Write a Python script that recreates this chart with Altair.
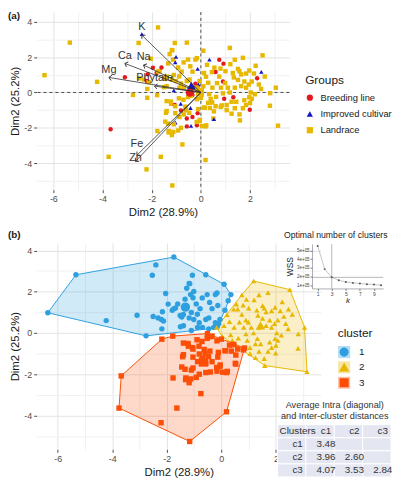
import math
import altair as alt
import pandas as pd

# ---------------- data ----------------
# individual PCA scores (x, y, group code) for each k-means cluster
C1 = [
    (-6.36, 0.98, 'L'), (-5.33, 2.82, 'L'), (-4.22, 0.60, 'L'), (-3.09, 0.86, 'B'), (-2.76, -0.14, 'L'),
    (-2.40, 3.30, 'I'), (-2.53, 2.80, 'L'), (-1.74, 3.68, 'L'), (-2.04, 1.91, 'L'), (-2.50, 0.80, 'L'),
    (-2.32, 0.73, 'L'), (-2.20, 0.65, 'B'), (-2.12, 0.58, 'L'), (-2.18, 0.20, 'L'), (-1.80, 1.10, 'B'),
    (-1.68, 1.21, 'L'), (-1.60, 1.41, 'B'), (-1.45, 0.77, 'L'), (-1.39, 0.35, 'L'), (-1.33, 1.64, 'L'),
    (-1.27, 2.17, 'L'), (-1.18, 2.40, 'L'), (-1.06, 2.80, 'L'), (-1.13, 1.86, 'L'), (-1.04, 1.71, 'I'),
    (-1.01, 2.01, 'I'), (-0.92, 1.41, 'L'), (-1.10, 0.99, 'L'), (-1.18, 0.73, 'L'), (-1.01, 0.65, 'L'),
    (-0.88, 0.91, 'L'), (-0.81, 0.50, 'L'), (-1.10, 0.12, 'I'), (-0.57, 2.82, 'L'), (-0.52, 1.86, 'L'),
    (-0.43, 1.48, 'L'), (-0.34, 1.18, 'L'), (-0.22, 1.86, 'L'), (-0.16, 1.94, 'L'), (-0.13, 1.33, 'I'),
    (0.10, 2.36, 'L'), (0.35, 1.86, 'I'), (0.25, 1.56, 'L'), (0.13, 1.10, 'L'), (-0.05, 0.65, 'L'),
    (-0.22, 0.50, 'B'), (-0.57, 0.65, 'L'), (-0.69, 0.27, 'L'), (-0.46, 0.20, 'L'), (-1.39, 0.90, 'L'),
    (-1.16, 2.39, 'L'), (-1.74, 1.18, 'L'), (-1.51, 0.85, 'L'), (-0.78, 1.18, 'L'), (-0.46, 0.73, 'L'),
    (-0.87, 0.27, 'L'), (-0.28, 0.27, 'I'), (-1.95, 1.40, 'B'), (-2.16, 1.03, 'B'), (-0.70, 1.70, 'L'),
    (-1.50, 0.30, 'L'), (-0.10, 0.45, 'I'), (-0.15, 0.30, 'B'),
]
C2 = [
    (1.18, 2.52, 'L'), (0.75, 1.85, 'B'), (0.92, 1.63, 'B'), (0.60, 1.16, 'B'), (0.55, 1.40, 'L'),
    (0.21, 0.89, 'L'), (1.71, 1.96, 'L'), (1.38, 1.85, 'L'), (1.51, 1.33, 'L'), (1.57, 1.20, 'L'),
    (1.64, 1.02, 'L'), (1.84, 1.07, 'L'), (1.97, 1.24, 'L'), (2.23, 1.51, 'L'), (2.16, 1.07, 'L'),
    (2.51, 2.10, 'L'), (2.46, 1.16, 'I'), (2.29, 0.80, 'B'), (2.36, 0.45, 'L'), (2.07, 0.62, 'L'),
    (2.03, 0.00, 'L'), (1.84, 0.27, 'L'), (1.97, -0.27, 'L'), (2.07, -0.36, 'L'), (1.99, -0.98, 'B'),
    (2.00, -0.60, 'L'), (3.05, 0.27, 'L'), (2.81, -0.75, 'L'), (3.14, -1.88, 'L'), (2.82, -0.04, 'L'),
    (1.57, -1.24, 'L'), (1.25, -1.20, 'L'), (1.38, -0.89, 'L'), (1.05, -0.71, 'L'), (1.25, -0.53, 'L'),
    (1.32, -0.27, 'B'), (0.95, -0.36, 'B'), (1.10, 0.27, 'L'), (0.82, 0.27, 'L'), (0.90, 0.62, 'B'),
    (0.99, 0.53, 'L'), (0.66, 0.53, 'L'), (0.47, 0.27, 'L'), (0.34, -0.09, 'L'), (0.40, -0.36, 'L'),
    (1.18, 0.00, 'L'), (1.38, 0.27, 'L'), (1.64, 0.36, 'L'), (1.77, -0.44, 'L'), (1.84, -0.71, 'L'),
    (1.44, -0.53, 'L'), (1.71, -0.89, 'L'), (1.05, -1.00, 'L'), (1.51, 0.71, 'L'), (1.34, 0.85, 'L'),
    (1.77, 0.62, 'L'), (0.30, 0.55, 'L'), (0.10, 0.35, 'L'), (-0.17, 0.27, 'L'), (0.02, -0.15, 'L'),
    (0.45, 1.15, 'L'), (0.75, 0.90, 'L'), (1.00, 1.20, 'L'), (1.20, 1.60, 'L'), (2.60, 0.90, 'L'),
    (2.20, -0.10, 'L'), (1.59, -1.58, 'L'), (0.90, -0.05, 'L'), (0.62, -0.25, 'L'), (2.45, 0.20, 'L'),
    (1.95, 0.45, 'L'), (1.30, 1.10, 'L'), (0.80, 1.35, 'L'),
]
C3 = [
    (-2.18, -0.30, 'L'), (-1.78, -0.15, 'L'), (-3.67, -2.08, 'B'), (-3.75, -3.64, 'L'), (-2.21, -4.35, 'L'),
    (-1.16, -5.26, 'L'), (0.19, -3.82, 'L'), (0.85, -0.73, 'L'), (-1.77, -2.18, 'L'), (-1.63, -3.64, 'L'),
    (-0.75, -2.94, 'L'), (-1.31, -2.26, 'L'), (-1.12, -2.23, 'L'), (-1.18, -2.41, 'L'), (-1.45, -1.65, 'L'),
    (-1.39, -0.49, 'L'), (-1.21, -0.64, 'L'), (-1.06, -0.71, 'B'), (-0.89, -0.33, 'L'), (-0.82, -0.64, 'I'),
    (-0.81, -1.02, 'B'), (-0.63, -0.80, 'L'), (-0.42, -0.88, 'I'), (-1.39, -1.05, 'L'), (-1.04, -1.17, 'L'),
    (-0.87, -1.39, 'L'), (-0.69, -1.24, 'L'), (-0.57, -1.47, 'B'), (-0.34, -1.39, 'B'), (-0.13, -1.17, 'B'),
    (-0.05, -1.62, 'L'), (-0.16, -1.85, 'B'), (0.19, -1.92, 'L'), (-0.11, -0.94, 'L'), (0.13, -0.86, 'L'),
    (0.30, -0.59, 'L'), (0.46, -0.56, 'L'), (0.51, -1.47, 'L'), (0.37, -0.88, 'L'), (-0.57, -1.92, 'B'),
    (-0.81, -2.00, 'L'), (-1.04, -1.70, 'I'), (-0.40, -1.89, 'I'), (-0.92, -2.15, 'L'), (-0.52, -0.26, 'L'),
    (-0.34, -0.15, 'B'), (-0.16, -0.38, 'L'), (0.00, -0.30, 'L'), (-1.22, -0.51, 'L'), (-1.04, -0.78, 'L'),
    (-0.71, -0.41, 'L'), (-0.51, -0.03, 'B'), (-0.40, -0.18, 'L'), (0.42, -0.56, 'L'), (0.16, -0.86, 'L'),
    (0.60, -0.78, 'L'), (0.81, -0.82, 'L'), (0.22, -1.86, 'L'), (-0.04, -1.55, 'L'), (-1.30, -2.18, 'L'),
    (-1.33, -1.76, 'L'), (-1.10, -1.80, 'L'), (-0.60, -1.00, 'L'), (-0.47, -1.15, 'L'), (-0.17, -1.67, 'L'),
    (0.05, -1.90, 'L'), (-1.42, -1.15, 'L'), (0.53, -1.51, 'I'), (0.53, -1.07, 'L'),
]

GROUPS = ["Breeding line", "Improved cultivar", "Landrace"]
GROUP_CODE = {"B": GROUPS[0], "I": GROUPS[1], "L": GROUPS[2]}
GROUP_COLORS = ["#E3191C", "#1616C8", "#E7B800"]
SHAPES = ["circle", "triangle-up", "square"]

CLUSTERS = ["1", "2", "3"]
CLUSTER_COLORS = ["#2E9FDF", "#E7B800", "#FC4E07"]

# variable loadings (arrow tips)
VAR_NAMES = ["K", "Ca", "Na", "Mg", "Phytate", "Fe", "Zn"]
VAR_X = [-2.40, -3.09, -2.33, -3.74, -1.88, -2.60, -2.66]
VAR_Y = [3.24, 1.64, 1.55, 0.85, 0.36, -3.55, -3.90]

# elbow inset
K_VALUES = list(range(1, 11))
WSS = [552000, 285000, 190000, 156000, 137000, 126000, 119000, 111000, 107000, 100000]
K_OPT = 3

# distance table
TABLE_COLS = ["Clusters", "c1", "c2", "c3"]
TABLE_ROWS = ["c1", "c2", "c3"]
DIST = [[3.48, None, None], [3.96, 2.60, None], [4.07, 3.53, 2.84]]

# ---------------- layout / style constants ----------------
FONT = "Liberation Sans"
TOP_W, TOP_H = 256, 180
TOP_XD, TOP_YD = [-6.68, 3.6], [-5.5, 4.55]
BOT_W, BOT_H = 288, 209
BOT_XD, BOT_YD = [-6.77, 3.65], [-5.64, 4.36]
INSET_XD, INSET_YD = [0.2, 10.3], [62000, 575000]
INSET_XR, INSET_YR = [279, 351], [46, 1]
TABLE_XR, TABLE_YR = [244, 359], [184, 237]

# ---------------- build tables ----------------
rows = []
for cl, pts in zip(CLUSTERS, (C1, C2, C3)):
    for x, y, g in pts:
        rows.append({"dim1": x, "dim2": y, "group": GROUP_CODE[g], "cluster": cl})
ind = pd.DataFrame(rows)


def convex_hull(points):
    pts = sorted(set(points))
    def cross(o, a, b):
        return (a[0] - o[0]) * (b[1] - o[1]) - (a[1] - o[1]) * (b[0] - o[0])
    lower, upper = [], []
    for p in pts:
        while len(lower) >= 2 and cross(lower[-2], lower[-1], p) <= 0:
            lower.pop()
        lower.append(p)
    for p in reversed(pts):
        while len(upper) >= 2 and cross(upper[-2], upper[-1], p) <= 0:
            upper.pop()
        upper.append(p)
    return lower[:-1] + upper[:-1]


hull_rows = []
for cl in CLUSTERS:
    sub = ind[ind.cluster == cl]
    for i, (x, y) in enumerate(convex_hull(list(zip(sub.dim1, sub.dim2)))):
        hull_rows.append({"cluster": cl, "order": i, "dim1": x, "dim2": y})
hull_df = pd.DataFrame(hull_rows)

sx = TOP_W / (TOP_XD[1] - TOP_XD[0])
sy = TOP_H / (TOP_YD[1] - TOP_YD[0])
var_df = pd.DataFrame({"name": VAR_NAMES, "vx": VAR_X, "vy": VAR_Y})
var_df["x0"] = 0.0
var_df["y0"] = 0.0
var_df["angle"] = [(math.degrees(math.atan2(x * sx, y * sy)) + 360) % 360 for x, y in zip(VAR_X, VAR_Y)]
origin = pd.DataFrame({"x0": [0.0], "y0": [0.0]})

elbow = pd.DataFrame({"k": K_VALUES, "wss": WSS})
vline = pd.DataFrame({"k": [K_OPT], "lo": [INSET_YD[0]], "hi": [INSET_YD[1]]})
hline = pd.DataFrame({"k0": [INSET_XD[0]], "k1": [INSET_XD[1]], "w": [WSS[K_VALUES.index(K_OPT)]]})
inset_title = pd.DataFrame({"t": ["Optimal number of clusters"]})
panel_tag_a = pd.DataFrame({"t": ["(a)"]})
panel_tag_b = pd.DataFrame({"t": ["(b)"]})

trows = [{"row": "Clusters", "col": c, "text": c} for c in TABLE_COLS]
for r, vals in zip(TABLE_ROWS, DIST):
    trows.append({"row": r, "col": TABLE_COLS[0], "text": r})
    for c, v in zip(TABLE_COLS[1:], vals):
        trows.append({"row": r, "col": c, "text": "" if v is None else f"{v:.2f}"})
table_df = pd.DataFrame(trows)
ROW_KEYS = ["Clusters"] + TABLE_ROWS

# ---------------- axes ----------------
EVEN = "datum.value % 2 === 0"
GRID_COND = {"condition": {"test": EVEN, "value": "#e3e3e3"}, "value": "#f1f1f1"}
TICK_COND = {"condition": {"test": EVEN, "value": 1}, "value": 0}
LABEL_EXPR = f"{EVEN} ? replace(datum.label, '\u2212', '-') : ''"


def ax(values, title):
    return alt.Axis(values=values, labelExpr=LABEL_EXPR, gridColor=GRID_COND,
                    tickOpacity=TICK_COND, title=title, grid=True)


def X(field, dom):
    return alt.X(field, type="quantitative", scale=alt.Scale(domain=dom, nice=False, zero=False),
                 axis=ax(list(range(-6, 4)), "Dim2 (28.9%)"))


def Y(field, dom):
    return alt.Y(field, type="quantitative", scale=alt.Scale(domain=dom, nice=False, zero=False),
                 axis=ax(list(range(-5, 5)), "Dim2 (25.2%)"))


grp_legend = alt.Legend(title="Groups", orient="none", legendX=272, legendY=64,
                        titleFontSize=12, labelFontSize=9.5, symbolSize=40, rowPadding=5.5,
                        titlePadding=6, labelOffset=6)
gcolor = alt.Color("group:N", scale=alt.Scale(domain=GROUPS, range=GROUP_COLORS), legend=grp_legend)
gshape = alt.Shape("group:N", scale=alt.Scale(domain=GROUPS, range=SHAPES), legend=grp_legend)

TAG_STYLE = dict(fontSize=10, fontWeight="bold", color="#1a1a1a", font=FONT, align="left", baseline="middle")
LBL_STYLE = dict(fontSize=11, color="#333", font=FONT)

# ---------------- panel (a) ----------------
zero_v = alt.Chart(origin).mark_rule(strokeDash=[3, 3], color="#222", strokeWidth=0.8).encode(x=X("x0", TOP_XD))
zero_h = alt.Chart(origin).mark_rule(strokeDash=[3, 3], color="#222", strokeWidth=0.8).encode(y=Y("y0", TOP_YD))
pts_a = alt.Chart(ind).mark_point(filled=True, size=20, opacity=1).encode(
    x=X("dim1", TOP_XD), y=Y("dim2", TOP_YD), color=gcolor, shape=gshape)
mean_a = alt.Chart(ind).mark_point(filled=True, size=70, opacity=1).encode(
    x=X("mean(dim1)", TOP_XD), y=Y("mean(dim2)", TOP_YD), color=gcolor, shape=gshape)
arrows = alt.Chart(var_df).mark_rule(color="#333", strokeWidth=0.8).encode(
    x=X("x0", TOP_XD), y=Y("y0", TOP_YD), x2="vx", y2="vy")
heads = alt.Chart(var_df).mark_point(shape="M-1,1L0,0L1,1", filled=False, size=28, color="#333",
                                     strokeWidth=0.9, opacity=1).encode(
    x=X("vx", TOP_XD), y=Y("vy", TOP_YD), angle=alt.Angle("angle:Q", scale=None))
lab_enc = dict(x=X("vx", TOP_XD), y=Y("vy", TOP_YD), text="name:N")
vlabels = alt.Chart(var_df).transform_filter("datum.name != 'Fe' && datum.name != 'Zn'").mark_text(
    dy=-8, **LBL_STYLE).encode(**lab_enc)
fe_label = alt.Chart(var_df).transform_filter("datum.name == 'Fe'").mark_text(
    dy=-11, **LBL_STYLE).encode(**lab_enc)
zn_label = alt.Chart(var_df).transform_filter("datum.name == 'Zn'").mark_text(
    dy=-3, **LBL_STYLE).encode(**lab_enc)
tag_a = alt.Chart(panel_tag_a).mark_text(**TAG_STYLE).encode(x=alt.value(-29), y=alt.value(4), text="t:N")

panel_a = alt.layer(zero_v, zero_h, pts_a, mean_a, arrows, heads, vlabels, fe_label, zn_label,
                    tag_a).properties(width=TOP_W, height=TOP_H)

# ---------------- panel (b) ----------------
LEG_COMMON = dict(orient="none", legendX=305, legendY=86, titleFontSize=12, titlePadding=6,
                  labelFontSize=10, clipHeight=13, rowPadding=2.5)
cl_legend = alt.Legend(title="cluster", symbolSize=60, symbolOffset=1.5, labelOffset=10, **LEG_COMMON)
box_legend = alt.Legend(title=" ", symbolType="square", symbolSize=150, labelExpr="''",
                        symbolOpacity=0.35, symbolStrokeWidth=0, **LEG_COMMON)
ccolor = alt.Color("cluster:N", scale=alt.Scale(domain=CLUSTERS, range=CLUSTER_COLORS), legend=cl_legend)
cshape = alt.Shape("cluster:N", scale=alt.Scale(domain=CLUSTERS, range=SHAPES), legend=cl_legend)

hulls = alt.Chart(hull_df).mark_line(interpolate="linear-closed", strokeWidth=1, fillOpacity=0.22).encode(
    x=X("dim1", BOT_XD), y=Y("dim2", BOT_YD), color=ccolor,
    fill=alt.Fill("cluster:N", scale=alt.Scale(range=CLUSTER_COLORS), legend=box_legend),
    order="order:Q")
pts_b = alt.Chart(ind).mark_point(filled=True, size=30, opacity=1).encode(
    x=X("dim1", BOT_XD), y=Y("dim2", BOT_YD), color=ccolor, shape=cshape)
cent_b = alt.Chart(ind).mark_point(filled=True, size=90, opacity=1).encode(
    x=X("mean(dim1)", BOT_XD), y=Y("mean(dim2)", BOT_YD), color=ccolor, shape=cshape)
tag_b = alt.Chart(panel_tag_b).mark_text(**TAG_STYLE).encode(x=alt.value(-29), y=alt.value(-8), text="t:N")
main_b = alt.layer(hulls, pts_b, cent_b, tag_b)

IX = alt.X("k:Q", scale=alt.Scale(domain=INSET_XD, range=INSET_XR, nice=False, zero=False),
           axis=alt.Axis(orient="bottom", offset=INSET_YR[0] - BOT_H, values=K_VALUES, grid=False,
                         domain=True, domainColor="#777", domainWidth=0.6, tickSize=2, tickColor="#777",
                         labelFontSize=5, labelPadding=1, labelColor="#444", title="k",
                         titleFontStyle="italic", titleFontSize=8, titlePadding=0))
IY = alt.Y("wss:Q", scale=alt.Scale(domain=INSET_YD, range=INSET_YR, nice=False, zero=False),
           axis=alt.Axis(orient="left", offset=-INSET_XR[0], values=[100000, 200000, 300000, 400000, 500000],
                         labelExpr="format(datum.value / 100000, 'd') + 'e+05'", grid=False,
                         domain=True, domainColor="#777", domainWidth=0.6, tickSize=2, tickColor="#777",
                         labelFontSize=4.5, labelPadding=1, labelColor="#444", title="WSS",
                         titleFontSize=8.5, titlePadding=2))
el_line = alt.Chart(elbow).mark_line(color="#c4c4c4", strokeWidth=1).encode(x=IX, y=IY)
el_pts = alt.Chart(elbow).mark_point(filled=True, size=4, color="#555", opacity=1).encode(x=IX, y=IY)
el_v = alt.Chart(vline).mark_rule(color="#888", strokeWidth=0.6).encode(
    x=alt.X("k:Q", scale=alt.Scale(domain=INSET_XD, range=INSET_XR, nice=False, zero=False)),
    y=alt.Y("lo:Q", scale=alt.Scale(domain=INSET_YD, range=INSET_YR, nice=False, zero=False)), y2="hi")
el_h = alt.Chart(hline).mark_rule(color="#888", strokeWidth=0.6).encode(
    x=alt.X("k0:Q", scale=alt.Scale(domain=INSET_XD, range=INSET_XR, nice=False, zero=False)), x2="k1",
    y=alt.Y("w:Q", scale=alt.Scale(domain=INSET_YD, range=INSET_YR, nice=False, zero=False)))
el_title = alt.Chart(inset_title).mark_text(fontSize=8.8, color="#222", font=FONT).encode(
    x=alt.value(303), y=alt.value(-8), text="t:N")
inset = alt.layer(el_line, el_v, el_h, el_pts, el_title)

TX = alt.X("col:N", sort=TABLE_COLS,
           scale=alt.Scale(domain=TABLE_COLS, range=TABLE_XR, paddingInner=0, paddingOuter=0),
           axis=alt.Axis(orient="top", offset=-TABLE_YR[0], labels=False, ticks=False, domain=False,
                         grid=False, title=["Average  Intra  (diagonal)", "and  Inter-cluster  distances"],
                         titleFontSize=9.3, titleFontWeight="normal", titleColor="#333", titlePadding=4))
TY = alt.Y("row:N", sort=ROW_KEYS,
           scale=alt.Scale(domain=ROW_KEYS, range=TABLE_YR, paddingInner=0, paddingOuter=0), axis=None)
t_rect = alt.Chart(table_df).mark_rect(fill="#e4e6f1", stroke="white", strokeWidth=1).encode(x=TX, y=TY)
t_text = alt.Chart(table_df).mark_text(fontSize=10, color="#333", font=FONT, dx=6).encode(
    x=TX, y=TY, text="text:N")
table = alt.layer(t_rect, t_text)

panel_b = alt.layer(main_b, inset, table).resolve_scale(x="independent", y="independent").properties(
    width=BOT_W, height=BOT_H)

chart = alt.vconcat(panel_a, panel_b, spacing=12).resolve_scale(
    color="independent", shape="independent", fill="independent", x="independent", y="independent"
).properties(padding=0).configure(font=FONT).configure_view(stroke=None).configure_axis(
    labelFont=FONT, titleFont=FONT, labelFontSize=9, labelColor="#4d4d4d", titleFontSize=11.5,
    titleFontWeight="normal", titleColor="#1a1a1a", tickColor="#4d4d4d", tickSize=3, domain=False,
    labelPadding=2, titlePadding=3
).configure_legend(labelFont=FONT, titleFont=FONT, titleFontWeight="normal", labelColor="#1a1a1a",
                   titleColor="#1a1a1a")

chart.save("out.html", embed_options={"renderer": "svg", "actions": False})
